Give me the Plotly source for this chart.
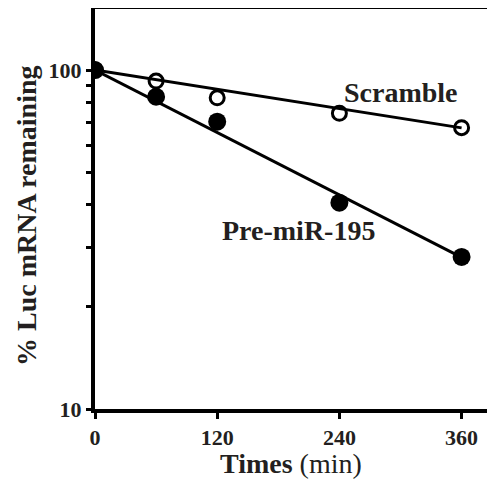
import plotly.graph_objects as go

# Data
times = [0, 60, 120, 240, 360]
scramble = [100, 92.8, 82.8, 74.5, 67.6]
pre_mir = [100, 83.4, 70.4, 40.6, 28.1]

# fitted decay lines (endpoints)
fit_x = [0, 360]
scramble_fit = [100, 67.5]
pre_mir_fit = [100, 28.0]

x_ticks = [0, 120, 240, 360]
x_ticktext = ["<b>0</b>", "<b>120</b>", "<b>240</b>", "<b>360</b>"]
y_ticks = [10, 20, 30, 40, 50, 60, 70, 80, 90, 100]
y_ticktext = ["<b>10</b>", "", "", "", "", "", "", "", "", "<b>100</b>"]

FONT = "Liberation Serif, Times New Roman, serif"
TXT = "#231f20"

fig = go.Figure()
fig.add_trace(go.Scatter(x=fit_x, y=scramble_fit, mode="lines",
                         line=dict(color="black", width=3), showlegend=False))
fig.add_trace(go.Scatter(x=fit_x, y=pre_mir_fit, mode="lines",
                         line=dict(color="black", width=3), showlegend=False))
fig.add_trace(go.Scatter(x=times, y=scramble, mode="markers",
                         marker=dict(symbol="circle-open", size=14, color="black",
                                     line=dict(color="black", width=3)),
                         showlegend=False))
fig.add_trace(go.Scatter(x=times, y=pre_mir, mode="markers",
                         marker=dict(symbol="circle", size=18, color="black",
                                     line=dict(width=0)),
                         showlegend=False))

fig.add_annotation(x=300.5, y=1.935, xref="x", yref="y", text="<b>Scramble</b>",
                   showarrow=False, font=dict(family=FONT, size=28, color=TXT),
                   xanchor="center", yanchor="middle")
fig.add_annotation(x=200.3, y=1.528, xref="x", yref="y", text="<b>Pre-miR-195</b>",
                   showarrow=False, font=dict(family=FONT, size=28, color=TXT),
                   xanchor="center", yanchor="middle")

# axis titles
fig.add_annotation(x=0.49, y=-0.135, xref="paper", yref="paper",
                   text="<b>Times</b> (min)", showarrow=False,
                   font=dict(family=FONT, size=28, color=TXT),
                   xanchor="center", yanchor="middle")
fig.add_annotation(x=-0.1725, y=0.4825, xref="paper", yref="paper",
                   text="<b>% Luc mRNA remaining</b>", showarrow=False, textangle=-90,
                   font=dict(family=FONT, size=28, color=TXT),
                   xanchor="center", yanchor="middle")

# page body has an 8px margin, so the figure is sized/placed to compensate
fig.update_layout(
    width=487, height=473,
    margin=dict(l=87, r=0, t=1, b=72, autoexpand=False),
    paper_bgcolor="white", plot_bgcolor="white",
    font=dict(family=FONT, color=TXT),
    xaxis=dict(range=[0, 392.8], tickvals=x_ticks, ticktext=x_ticktext,
               ticks="outside", ticklen=6, tickwidth=3, tickcolor="black",
               showline=True, linewidth=4, linecolor="black", mirror=True,
               showgrid=False, zeroline=False, automargin=False,
               tickfont=dict(family=FONT, size=22, color=TXT)),
    yaxis=dict(type="log", range=[1, 2.18], tickvals=y_ticks, ticktext=y_ticktext,
               ticks="outside", ticklen=5, tickwidth=3, tickcolor="black",
               showline=True, linewidth=4, linecolor="black", showgrid=False,
               zeroline=False, automargin=False,
               tickfont=dict(family=FONT, size=22, color=TXT)),
)

fig.write_html("out.html")
